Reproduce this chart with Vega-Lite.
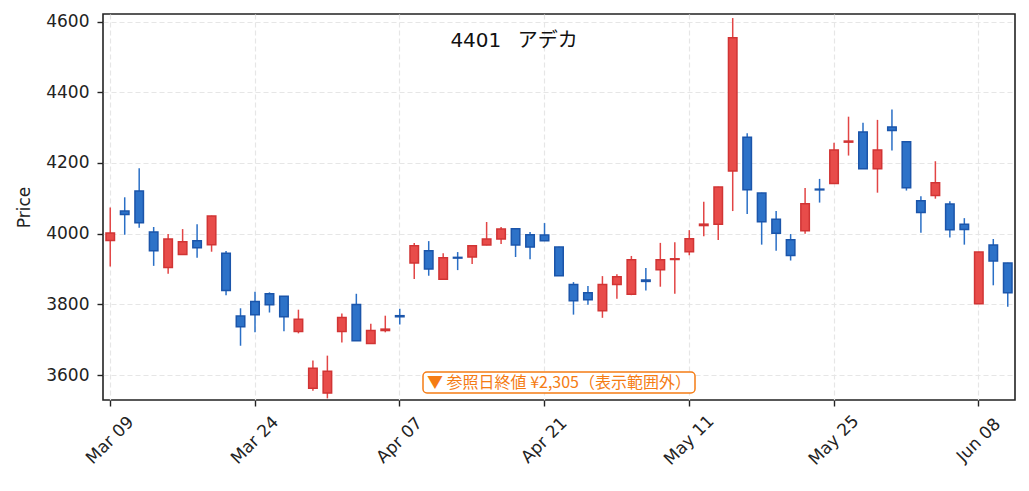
{
  "$schema": "https://vega.github.io/schema/vega-lite/v6.json",
  "width": 912,
  "height": 386,
  "autosize": {"type": "none"},
  "padding": {"left": 103, "top": 14, "right": 14, "bottom": 91},
  "background": "white",
  "title": {
    "text": "4401\u2002\u00a0アデカ",
    "offset": -54,
    "baseline": "alphabetic",
    "dx": -45,
    "fontSize": 20,
    "fontWeight": "normal",
    "color": "#111111",
    "font": "DejaVu Sans, Noto Sans CJK JP"
  },
  "config": {
    "view": {"stroke": "#222222", "strokeWidth": 1.6},
    "font": "DejaVu Sans",
    "axis": {
      "labelFont": "DejaVu Sans",
      "titleFont": "DejaVu Sans",
      "labelFontSize": 17,
      "titleFontSize": 17,
      "titleFontWeight": "normal",
      "labelColor": "#222222",
      "titleColor": "#222222",
      "domain": false,
      "tickColor": "#222222",
      "tickWidth": 1.4,
      "tickSize": 6,
      "gridColor": "#e6e6e6",
      "gridDash": [5, 3],
      "gridWidth": 1.2
    }
  },
  "datasets": {
    "candles": [
      {"d": "Mar 09", "o": 3981, "h": 4074, "l": 3907, "c": 4002},
      {"d": "Mar 10", "o": 4064, "h": 4103, "l": 3997, "c": 4054},
      {"d": "Mar 11", "o": 4121, "h": 4185, "l": 4017, "c": 4031},
      {"d": "Mar 12", "o": 4005, "h": 4019, "l": 3909, "c": 3952},
      {"d": "Mar 13", "o": 3904, "h": 3999, "l": 3887, "c": 3985},
      {"d": "Mar 16", "o": 3941, "h": 4013, "l": 3940, "c": 3977},
      {"d": "Mar 17", "o": 3980, "h": 4027, "l": 3932, "c": 3960},
      {"d": "Mar 18", "o": 3969, "h": 4051, "l": 3949, "c": 4050},
      {"d": "Mar 19", "o": 3945, "h": 3951, "l": 3826, "c": 3839},
      {"d": "Mar 23", "o": 3767, "h": 3789, "l": 3683, "c": 3737},
      {"d": "Mar 24", "o": 3808, "h": 3836, "l": 3721, "c": 3771},
      {"d": "Mar 25", "o": 3830, "h": 3834, "l": 3777, "c": 3799},
      {"d": "Mar 26", "o": 3823, "h": 3824, "l": 3724, "c": 3765},
      {"d": "Mar 27", "o": 3723, "h": 3785, "l": 3718, "c": 3758},
      {"d": "Mar 30", "o": 3563, "h": 3641, "l": 3556, "c": 3619},
      {"d": "Mar 31", "o": 3549, "h": 3655, "l": 3534, "c": 3611},
      {"d": "Apr 01", "o": 3723, "h": 3774, "l": 3692, "c": 3763},
      {"d": "Apr 02", "o": 3800, "h": 3830, "l": 3697, "c": 3697},
      {"d": "Apr 03", "o": 3689, "h": 3745, "l": 3688, "c": 3726},
      {"d": "Apr 06", "o": 3726, "h": 3768, "l": 3721, "c": 3730},
      {"d": "Apr 07", "o": 3768, "h": 3788, "l": 3743, "c": 3765},
      {"d": "Apr 08", "o": 3917, "h": 3974, "l": 3872, "c": 3966},
      {"d": "Apr 09", "o": 3952, "h": 3979, "l": 3881, "c": 3900},
      {"d": "Apr 10", "o": 3871, "h": 3945, "l": 3870, "c": 3932},
      {"d": "Apr 13", "o": 3933, "h": 3948, "l": 3897, "c": 3931},
      {"d": "Apr 14", "o": 3934, "h": 3967, "l": 3914, "c": 3966},
      {"d": "Apr 15", "o": 3968, "h": 4033, "l": 3967, "c": 3985},
      {"d": "Apr 16", "o": 3985, "h": 4019, "l": 3971, "c": 4013},
      {"d": "Apr 17", "o": 4014, "h": 4015, "l": 3934, "c": 3968},
      {"d": "Apr 20", "o": 3997, "h": 4005, "l": 3928, "c": 3962},
      {"d": "Apr 21", "o": 3996, "h": 4030, "l": 3979, "c": 3980},
      {"d": "Apr 22", "o": 3962, "h": 3963, "l": 3880, "c": 3881},
      {"d": "Apr 23", "o": 3856, "h": 3863, "l": 3771, "c": 3810},
      {"d": "Apr 24", "o": 3833, "h": 3852, "l": 3799, "c": 3813},
      {"d": "Apr 27", "o": 3782, "h": 3880, "l": 3762, "c": 3856},
      {"d": "Apr 28", "o": 3856, "h": 3885, "l": 3816, "c": 3878},
      {"d": "Apr 30", "o": 3829, "h": 3937, "l": 3826, "c": 3926},
      {"d": "May 01", "o": 3869, "h": 3903, "l": 3839, "c": 3865},
      {"d": "May 07", "o": 3898, "h": 3974, "l": 3850, "c": 3926},
      {"d": "May 08", "o": 3927, "h": 3976, "l": 3830, "c": 3929},
      {"d": "May 11", "o": 3949, "h": 4010, "l": 3939, "c": 3986},
      {"d": "May 12", "o": 4023, "h": 4090, "l": 3993, "c": 4027},
      {"d": "May 13", "o": 4027, "h": 4133, "l": 3982, "c": 4132},
      {"d": "May 14", "o": 4177, "h": 4610, "l": 4064, "c": 4554},
      {"d": "May 15", "o": 4273, "h": 4284, "l": 4056, "c": 4124},
      {"d": "May 18", "o": 4115, "h": 4116, "l": 3969, "c": 4034},
      {"d": "May 19", "o": 4041, "h": 4064, "l": 3952, "c": 4001},
      {"d": "May 20", "o": 3983, "h": 3999, "l": 3924, "c": 3938},
      {"d": "May 21", "o": 4008, "h": 4129, "l": 4000, "c": 4085},
      {"d": "May 22", "o": 4126, "h": 4155, "l": 4088, "c": 4124},
      {"d": "May 25", "o": 4142, "h": 4257, "l": 4141, "c": 4237},
      {"d": "May 26", "o": 4259, "h": 4331, "l": 4221, "c": 4262},
      {"d": "May 27", "o": 4288, "h": 4314, "l": 4183, "c": 4184},
      {"d": "May 28", "o": 4184, "h": 4322, "l": 4116, "c": 4237},
      {"d": "May 29", "o": 4302, "h": 4351, "l": 4235, "c": 4292},
      {"d": "Jun 01", "o": 4260, "h": 4261, "l": 4122, "c": 4130},
      {"d": "Jun 02", "o": 4093, "h": 4106, "l": 4003, "c": 4060},
      {"d": "Jun 03", "o": 4108, "h": 4205, "l": 4099, "c": 4144},
      {"d": "Jun 04", "o": 4084, "h": 4092, "l": 3989, "c": 4011},
      {"d": "Jun 05", "o": 4027, "h": 4044, "l": 3969, "c": 4012},
      {"d": "Jun 08", "o": 3802, "h": 3949, "l": 3801, "c": 3948},
      {"d": "Jun 09", "o": 3968, "h": 3985, "l": 3854, "c": 3923},
      {"d": "Jun 10", "o": 3917, "h": 3918, "l": 3793, "c": 3833}
    ],
    "note": [
      {"d": "Apr 22", "price": 3579, "label": "▼ 参照日終値 ¥2,305（表示範囲外）"}
    ]
  },
  "encoding": {
    "x": {
      "field": "d",
      "type": "ordinal",
      "sort": null,
      "title": null,
      "scale": {"type": "band", "paddingInner": 0, "paddingOuter": 0},
      "axis": {
        "values": ["Mar 09", "Mar 24", "Apr 07", "Apr 21", "May 11", "May 25", "Jun 08"],
        "bandPosition": 0.5,
        "grid": true,
        "labelAngle": -45,
        "labelAlign": "center",
        "labelBaseline": "middle",
        "labelPadding": 34,
        "labelOverlap": false
      }
    }
  },
  "layer": [
    {
      "data": {"name": "candles"},
      "mark": {"type": "rule", "strokeWidth": 1.5},
      "encoding": {
        "y": {
          "field": "l",
          "type": "quantitative",
          "title": "Price",
          "scale": {"domain": [3529.5, 4621.5], "nice": false, "zero": false},
          "axis": {"values": [3600, 3800, 4000, 4200, 4400, 4600], "format": "d", "grid": true, "labelPadding": 8, "titlePadding": 12}
        },
        "y2": {"field": "h"},
        "color": {
          "condition": {"test": "datum.c >= datum.o", "value": "#e24545"},
          "value": "#2a6fc6"
        }
      }
    },
    {
      "data": {"name": "candles"},
      "mark": {"type": "bar", "size": 8.5, "strokeWidth": 1.5},
      "encoding": {
        "y": {"field": "o", "type": "quantitative", "title": "Price"},
        "y2": {"field": "c"},
        "fill": {
          "condition": {"test": "datum.c >= datum.o", "value": "#e84c4a"},
          "value": "#2d72c8"
        },
        "stroke": {
          "condition": {"test": "datum.c >= datum.o", "value": "#d13434"},
          "value": "#1b55aa"
        }
      }
    },
    {
      "data": {"name": "note"},
      "mark": {"type": "bar", "size": 272, "fill": "white", "stroke": "#f57c14", "strokeWidth": 1.5, "cornerRadius": 4},
      "encoding": {
        "y": {"datum": 3549.3, "type": "quantitative", "title": "Price"},
        "y2": {"datum": 3608.7}
      }
    },
    {
      "data": {"name": "note"},
      "mark": {"type": "text", "fontSize": 16, "font": "Noto Sans CJK JP", "color": "#f57c14", "baseline": "middle", "align": "center"},
      "encoding": {
        "y": {"field": "price", "type": "quantitative", "title": "Price"},
        "text": {"field": "label"}
      }
    }
  ]
}
